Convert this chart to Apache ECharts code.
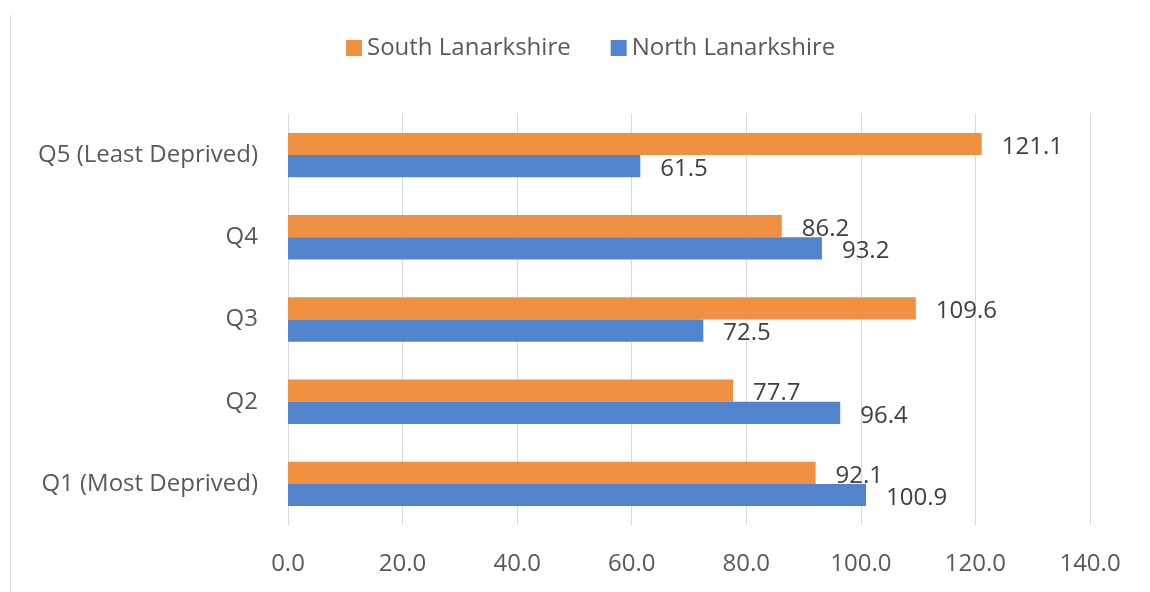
<!DOCTYPE html>
<html>
<head>
<meta charset="utf-8">
<script src="https://cdn.jsdelivr.net/npm/echarts@6/dist/echarts.min.js"></script>
<style>
  html, body { margin: 0; padding: 0; background: #fff; }
  #main { width: 1150px; height: 592px; }
</style>
</head>
<body>
<div id="main"></div>
<script>
// quintiles, bottom to top
const categories = ['Q1 (Most Deprived)', 'Q2', 'Q3', 'Q4', 'Q5 (Least Deprived)'];
const southLanarkshire = [92.1, 77.7, 109.6, 86.2, 121.1];
const northLanarkshire = [100.9, 96.4, 72.5, 93.2, 61.5];
const xTicks = [0, 20, 40, 60, 80, 100, 120, 140];

const myChart = echarts.init(document.getElementById('main'));

const fontFamily = '"Open Sans", sans-serif';
const labelStyle = {
    show: true,
    position: 'right',
    distance: 20,
    offset: [0, 3],
    color: '#404040',
    fontSize: 24,
    fontFamily: fontFamily,
    formatter: p => p.value.toFixed(1)
};

const option = {
    animation: false,
    graphic: [{
        // frame edge on the left
        type: 'line',
        shape: { x1: 10.5, y1: 15, x2: 10.5, y2: 592 },
        style: { stroke: '#d9d9d9', lineWidth: 1 }
    }],
    legend: {
        data: ['South Lanarkshire', 'North Lanarkshire'],
        left: 341,
        top: 31,
        itemWidth: 16,
        itemHeight: 16,
        itemGap: 40,
        icon: 'rect',
        textStyle: { color: '#595959', fontSize: 24, fontFamily: fontFamily }
    },
    grid: {
        left: 288,
        right: 60,
        top: 114,
        bottom: 67
    },
    xAxis: {
        type: 'value',
        min: xTicks[0],
        max: xTicks[xTicks.length - 1],
        interval: 20,
        axisLine: { show: false },
        axisTick: { show: false },
        axisLabel: {
            color: '#595959',
            fontSize: 24,
            fontFamily: fontFamily,
            margin: 27,
            formatter: v => v.toFixed(1)
        },
        splitLine: { show: true, lineStyle: { color: '#d9d9d9', width: 1 } }
    },
    yAxis: {
        type: 'category',
        data: categories,
        axisLine: { show: false },
        axisTick: { show: false },
        axisLabel: {
            color: '#595959',
            fontSize: 24,
            fontFamily: fontFamily,
            margin: 30,
            padding: [6, 0, 0, 0]
        }
    },
    series: [
        {
            name: 'South Lanarkshire',
            type: 'bar',
            data: southLanarkshire,
            barGap: '0%',
            barCategoryGap: '46%',
            itemStyle: { color: '#ef9140' },
            label: labelStyle
        },
        {
            name: 'North Lanarkshire',
            type: 'bar',
            data: northLanarkshire,
            itemStyle: { color: '#5284ce' },
            label: labelStyle
        }
    ]
};

myChart.setOption(option);
</script>
</body>
</html>
